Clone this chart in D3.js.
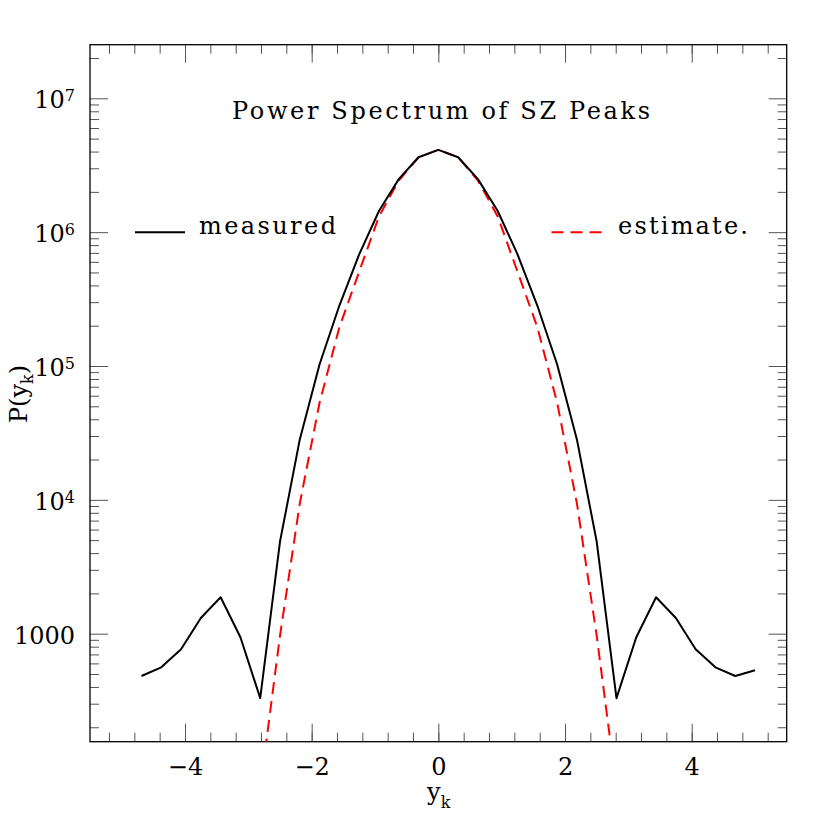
<!DOCTYPE html>
<html>
<head>
<meta charset="utf-8">
<script src="https://cdn.jsdelivr.net/npm/d3@7/dist/d3.min.js"></script>
<style>
    body { margin: 0; background: #fff; }
    text { font-family: "DejaVu Serif", serif; fill: #000; }
</style>
</head>
<body>
<svg id="chart" width="830" height="830"></svg>
<script>
// Sample positions of the measured spectrum
var ykMeasured = [-4.6875, -4.375, -4.0625, -3.75, -3.4375, -3.125, -2.8125, -2.5,
    -2.1875, -1.875, -1.5625, -1.25, -0.9375, -0.625, -0.3125, 0,
    0.3125, 0.625, 0.9375, 1.25, 1.5625, 1.875, 2.1875, 2.5,
    2.8125, 3.125, 3.4375, 3.75, 4.0625, 4.375, 4.6875, 5.0];

// Measured P(y_k)
var measured = [483, 561, 765, 1310, 1870, 940, 330, 4880,
    28300, 103000, 283000, 683000, 1440000, 2490000, 3630000, 4120000,
    3630000, 2490000, 1440000, 683000, 283000, 103000, 28300, 4880,
    330, 940, 1870, 1310, 765, 561, 483, 533];

// Sample positions of the estimate
var ykEstimate = [-2.8125, -2.5, -2.1875, -1.875, -1.5625, -1.25, -0.9375, -0.625, -0.3125, 0,
    0.3125, 0.625, 0.9375, 1.25, 1.5625, 1.875, 2.1875, 2.5, 2.8125];

// Estimated P(y_k)
var estimate = [70, 966, 9420, 53300, 195000, 507000, 1310000, 2430000, 3630000, 4120000,
    3630000, 2430000, 1310000, 507000, 195000, 53300, 9420, 966, 70];

// Tick values
var xMajorTicks = [-4, -2, 0, 2, 4];
var yMajorTicks = [1e3, 1e4, 1e5, 1e6, 1e7];

(function () {

    var svg = d3.select('#chart');

    // Plot frame
    var left = 90, right = 786.7, top = 44.7, bottom = 741.7;

    // Scales
    var x = d3.scaleLinear().domain([-5.5, 5.5]).range([left, right]);
    var y = d3.scaleLog().domain([156, 2.515e7]).range([bottom, top]);

    // Minor ticks: every 0.4 on x, 2..9 per decade on y
    var xMinorTicks = d3.range(-13, 14).map(function (i) { return i * 0.4; });
    var yMinorTicks = [];
    d3.range(2, 8).forEach(function (p) {
        d3.range(2, 10).forEach(function (m) {
            var v = m * Math.pow(10, p);
            if (v >= y.domain()[0] && v <= y.domain()[1]) yMinorTicks.push(v);
        });
    });

    // style an axis group
    var styleAxis = function (g) {
        g.select('.domain').remove();
        g.selectAll('.tick line').attr('stroke', '#555').attr('stroke-width', 1);
        g.attr('font-family', 'DejaVu Serif').attr('font-size', 24);
        g.selectAll('.tick text').attr('fill', '#000');
    };

    // Minor ticks on all four sides
    [
        [d3.axisBottom(x), 'translate(0,' + bottom + ')', xMinorTicks],
        [d3.axisTop(x), 'translate(0,' + top + ')', xMinorTicks],
        [d3.axisLeft(y), 'translate(' + left + ',0)', yMinorTicks],
        [d3.axisRight(y), 'translate(' + right + ',0)', yMinorTicks]
    ].forEach(function (a) {
        svg.append('g')
            .attr('transform', a[1])
            .call(a[0].tickValues(a[2]).tickSizeInner(-9).tickSizeOuter(0).tickFormat(''))
            .call(styleAxis);
    });

    // Major ticks, top and right (no labels)
    svg.append('g')
        .attr('transform', 'translate(0,' + top + ')')
        .call(d3.axisTop(x).tickValues(xMajorTicks).tickSizeInner(-18).tickSizeOuter(0).tickFormat(''))
        .call(styleAxis);
    svg.append('g')
        .attr('transform', 'translate(' + right + ',0)')
        .call(d3.axisRight(y).tickValues(yMajorTicks).tickSizeInner(-18).tickSizeOuter(0).tickFormat(''))
        .call(styleAxis);

    // Bottom axis with labels
    svg.append('g')
        .attr('transform', 'translate(0,' + bottom + ')')
        .call(d3.axisBottom(x).tickValues(xMajorTicks).tickSizeInner(-18).tickSizeOuter(0)
            .tickPadding(16).tickFormat(d3.format('d')))
        .call(styleAxis);

    // Left axis with labels, powers of ten as superscripts
    var yAxis = svg.append('g')
        .attr('transform', 'translate(' + left + ',0)')
        .call(d3.axisLeft(y).tickValues(yMajorTicks).tickSizeInner(-18).tickSizeOuter(0)
            .tickPadding(15).tickFormat(''))
        .call(styleAxis);
    yAxis.selectAll('.tick text').each(function (d) {
        var t = d3.select(this).attr('dy', '0.4em');
        var p = Math.round(Math.log10(d));
        if (p === 3) {
            t.text('1000');
        } else {
            t.append('tspan').text('10');
            t.append('tspan').attr('font-size', 16).attr('dy', -7).text(p);
        }
    });

    // Frame
    svg.append('rect')
        .attr('x', left).attr('y', top)
        .attr('width', right - left).attr('height', bottom - top)
        .attr('fill', 'none').attr('stroke', '#000').attr('stroke-width', 1.3);

    // Clip for the curves
    svg.append('clipPath').attr('id', 'plot-clip')
        .append('rect')
        .attr('x', left).attr('y', top)
        .attr('width', right - left).attr('height', bottom - top);

    var line = d3.line()
        .x(function (d) { return x(d[0]); })
        .y(function (d) { return y(d[1]); });

    var plot = svg.append('g').attr('clip-path', 'url(#plot-clip)');

    // estimate (dashed red)
    plot.append('path')
        .datum(d3.zip(ykEstimate, estimate))
        .attr('d', line)
        .attr('fill', 'none')
        .attr('stroke', '#ff0000')
        .attr('stroke-width', 2)
        .attr('stroke-dasharray', '12,7');

    // measured (solid black)
    plot.append('path')
        .datum(d3.zip(ykMeasured, measured))
        .attr('d', line)
        .attr('fill', 'none')
        .attr('stroke', '#000')
        .attr('stroke-width', 2)
        .attr('stroke-linejoin', 'round');

    // Title
    svg.append('text')
        .attr('x', 441).attr('y', 119.3)
        .attr('text-anchor', 'middle')
        .attr('font-size', 24)
        .attr('textLength', 418).attr('lengthAdjust', 'spacing')
        .text('Power Spectrum of SZ Peaks');

    // Legend
    var legendY = y(1e6);
    svg.append('line')
        .attr('x1', 135).attr('x2', 185).attr('y1', legendY).attr('y2', legendY)
        .attr('stroke', '#000').attr('stroke-width', 2);
    svg.append('text')
        .attr('x', 199).attr('y', legendY + 1.5)
        .attr('font-size', 24)
        .attr('textLength', 137).attr('lengthAdjust', 'spacing')
        .text('measured');
    svg.append('line')
        .attr('x1', 551.5).attr('x2', 602.7).attr('y1', legendY).attr('y2', legendY)
        .attr('stroke', '#ff0000').attr('stroke-width', 2)
        .attr('stroke-dasharray', '12,7');
    svg.append('text')
        .attr('x', 618).attr('y', legendY + 1.5)
        .attr('font-size', 24)
        .attr('textLength', 130).attr('lengthAdjust', 'spacing')
        .text('estimate.');

    // x axis label
    var xLabel = svg.append('text')
        .attr('x', 438.7).attr('y', 800)
        .attr('text-anchor', 'middle')
        .attr('font-size', 24);
    xLabel.append('tspan').text('y');
    xLabel.append('tspan').attr('font-size', 16).attr('dy', 8).text('k');

    // y axis label
    var yLabel = svg.append('text')
        .attr('transform', 'translate(27,394) rotate(-90)')
        .attr('text-anchor', 'middle')
        .attr('font-size', 24);
    yLabel.append('tspan').text('P(y');
    yLabel.append('tspan').attr('font-size', 16).attr('dy', 6).text('k');
    yLabel.append('tspan').attr('dy', -6).text(')');

})();
</script>
</body>
</html>
